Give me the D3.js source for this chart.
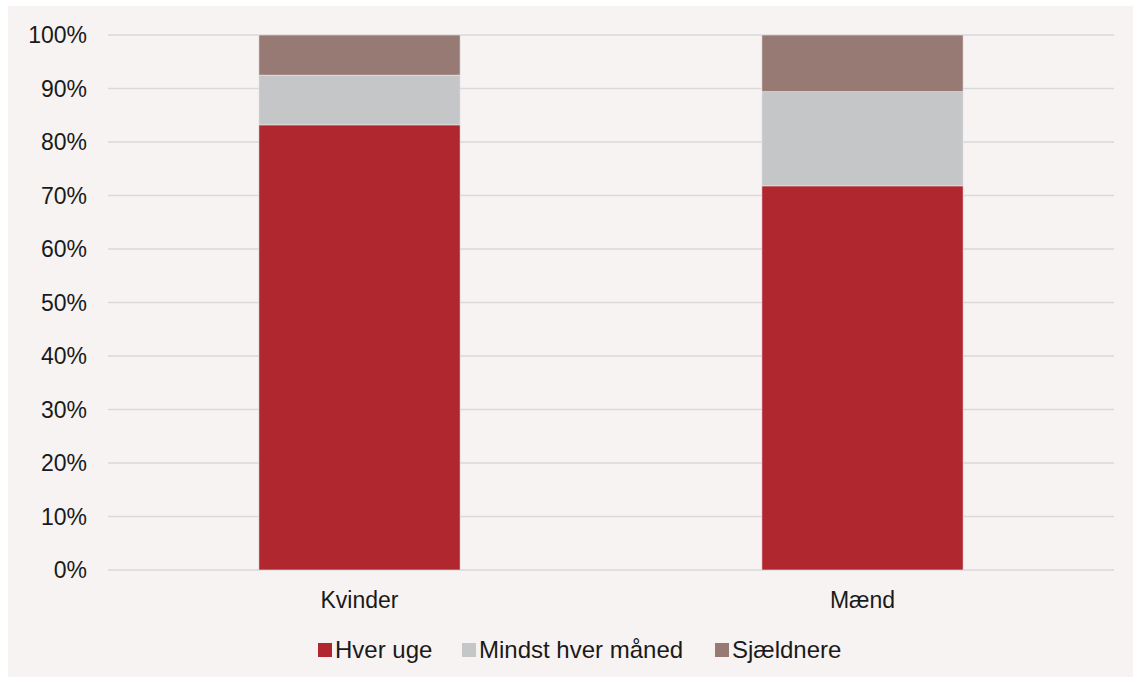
<!DOCTYPE html>
<html>
<head>
<meta charset="utf-8">
<script src="https://cdn.jsdelivr.net/npm/d3@7.9.0/dist/d3.min.js"></script>
<style>
  body { margin: 0; background: #fff; }
  svg { display: block; font-family: "Liberation Sans", Arial, sans-serif; }
</style>
</head>
<body>
<div id="chart"></div>
<script>
// Data (percent)
const categories = ['Kvinder', 'Mænd'];
const seriesNames = ['Hver uge', 'Mindst hver måned', 'Sjældnere'];
const hverUge = [83.2, 71.8];
const mindstHverMaaned = [9.3, 17.6];
const sjaeldnere = [7.5, 10.6];
const yTicks = [0, 10, 20, 30, 40, 50, 60, 70, 80, 90, 100];

const colors = ['#b0272f', '#c5c6c8', '#977a74'];

const width = 1135;
const height = 679;
const fontSize = 23;

const svg = d3.select('#chart')
    .append('svg')
    .attr('width', width)
    .attr('height', height);

// panel background
svg.append('rect')
    .attr('x', 8).attr('y', 6)
    .attr('width', 1125).attr('height', 671)
    .attr('fill', '#f7f3f2');

const plot = { left: 108, right: 1114, top: 35, bottom: 570 };

const rows = categories.map((c, i) => ({
    category: c,
    'Hver uge': hverUge[i],
    'Mindst hver måned': mindstHverMaaned[i],
    'Sjældnere': sjaeldnere[i],
}));

const stacked = d3.stack().keys(seriesNames)(rows);

const x = d3.scaleBand()
    .domain(categories)
    .range([plot.left, plot.right])
    .paddingInner(0.6)
    .paddingOuter(0.3);

const y = d3.scaleLinear()
    .domain([0, 100])
    .range([plot.bottom, plot.top]);

// gridlines
svg.append('g')
    .selectAll('line')
    .data(yTicks)
    .join('line')
    .attr('x1', plot.left)
    .attr('x2', plot.right)
    .attr('y1', d => y(d))
    .attr('y2', d => y(d))
    .attr('stroke', '#d9d9d9')
    .attr('stroke-width', 1.5);

// y tick labels
svg.append('g')
    .selectAll('text')
    .data(yTicks)
    .join('text')
    .attr('x', 87)
    .attr('y', d => y(d))
    .attr('dy', '0.35em')
    .attr('text-anchor', 'end')
    .attr('font-size', fontSize)
    .attr('fill', '#1a1a1a')
    .text(d => d + '%');

// bars
svg.append('g')
    .selectAll('g')
    .data(stacked)
    .join('g')
    .attr('fill', (d, i) => colors[i])
    .selectAll('rect')
    .data(d => d)
    .join('rect')
    .attr('x', d => x(d.data.category))
    .attr('width', x.bandwidth())
    .attr('y', d => y(d[1]))
    .attr('height', d => y(d[0]) - y(d[1]))
    .attr('stroke', '#eeeaea')
    .attr('stroke-width', 0.6);

// category labels
svg.append('g')
    .selectAll('text')
    .data(categories)
    .join('text')
    .attr('x', d => x(d) + x.bandwidth() / 2)
    .attr('y', 600)
    .attr('dy', '0.35em')
    .attr('text-anchor', 'middle')
    .attr('font-size', fontSize)
    .attr('fill', '#1a1a1a')
    .text(d => d);

// legend
const legendX = [318, 462, 715];
const legend = svg.append('g');
seriesNames.forEach((name, i) => {
    legend.append('rect')
        .attr('x', legendX[i])
        .attr('y', 643)
        .attr('width', 14)
        .attr('height', 14)
        .attr('fill', colors[i]);
    legend.append('text')
        .attr('x', legendX[i] + 17)
        .attr('y', 650)
        .attr('dy', '0.35em')
        .attr('font-size', 24)
        .attr('fill', '#1a1a1a')
        .text(name);
});
</script>
</body>
</html>
